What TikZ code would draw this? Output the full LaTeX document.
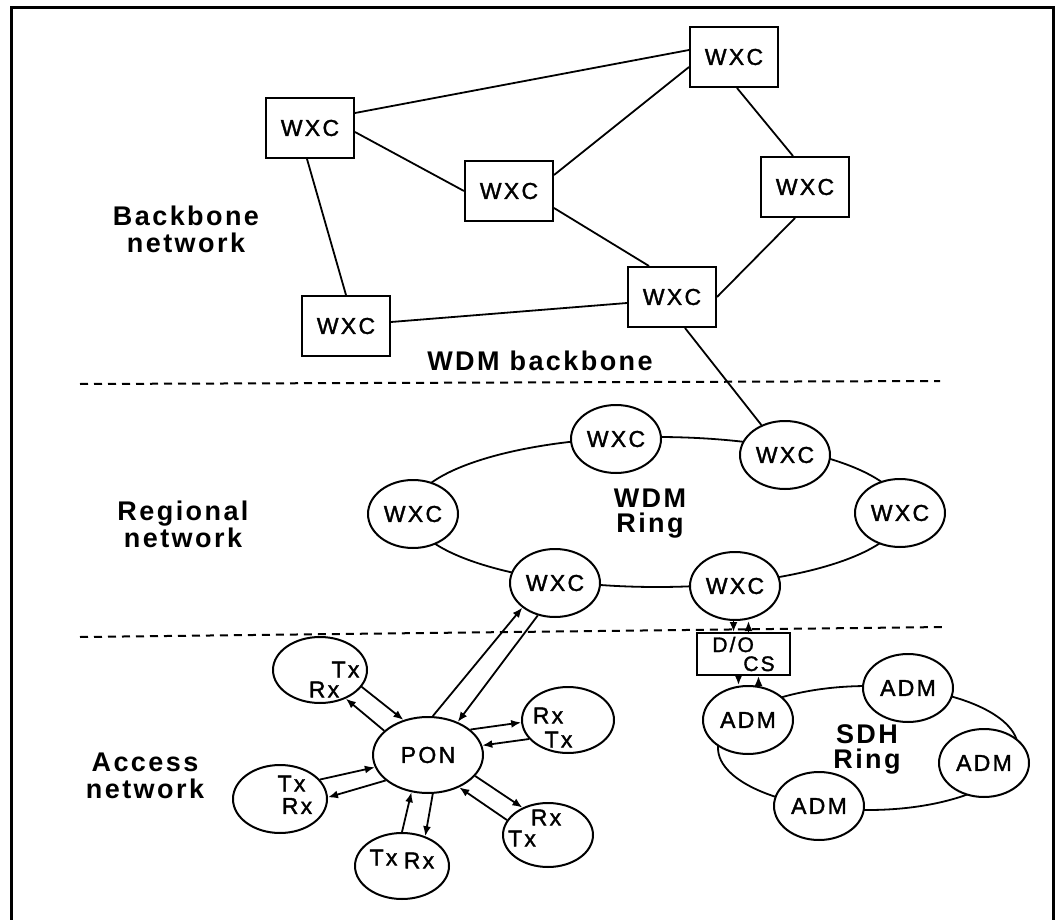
\documentclass[tikz,border=0pt]{standalone}
\usepackage{fontspec}
\setmainfont{Liberation Sans}
\newfontfamily\nf[LetterSpace=10,FakeBold=1.5]{Liberation Sans}
\newfontfamily\lf[LetterSpace=9]{Liberation Sans}
\usetikzlibrary{shapes.geometric,arrows.meta,calc}
\begin{document}
\begin{tikzpicture}[x=1pt,y=-1pt,
  box/.style={draw,line width=2pt,minimum width=88pt,minimum height=60pt,inner sep=0pt,fill=white,font=\nf\fontsize{23}{24}\selectfont},
  ell/.style={draw,ellipse,line width=2pt,minimum width=90pt,minimum height=68pt,inner sep=0pt,fill=white,font=\nf\fontsize{23}{24}\selectfont},
  txt/.style={inner sep=0pt,font=\nf\fontsize{23}{24}\selectfont},
  ln/.style={line width=1.8pt},
  arr/.style={line width=1.8pt,-{Latex[length=10pt,width=8pt]}},
  dsh/.style={line width=2pt,dash pattern=on 8pt off 6pt},
  lbl/.style={align=center,inner sep=0pt,font=\lf\bfseries\fontsize{27}{27}\selectfont},
  rlbl/.style={align=center,inner sep=0pt,font=\lf\bfseries\fontsize{27}{25}\selectfont}]
\useasboundingbox (0,0) rectangle (1055,920);
\fill[white] (0,0) rectangle (1055,920);
% frame
\draw[line width=3pt] (11,921) -- (11,8) -- (1053.5,8) -- (1053.5,921);

% ---------------- backbone ----------------
\node[box] (tr) at (734,57) {WXC};
\node[box] (lb) at (310,128) {WXC};
\node[box] (cb) at (509,191) {WXC};
\node[box] (rb) at (805,187) {WXC};
\node[box] (bb) at (672,297) {WXC};
\node[box] (bl) at (346,326) {WXC};

\draw[ln] ($(lb.east)+(0,-15)$) -- ($(tr.west)+(0,-7)$);
\draw[ln] ($(lb.east)+(0,4)$) -- (cb.west);
\draw[ln] ($(lb.south)+(-3,0)$) -- (bl.north);
\draw[ln] ($(cb.east)+(0,-16)$) -- ($(tr.west)+(0,10)$);
\draw[ln] ($(cb.east)+(0,17)$) -- ($(bb.north)+(-23,0)$);
\draw[ln] ($(tr.south)+(3,0)$) -- ($(rb.north)+(-12,0)$);
\draw[ln] ($(rb.south)+(-10,0)$) -- (bb.east);
\draw[ln] ($(bl.east)+(0,-4)$) -- ($(bb.west)+(0,6)$);

\node[lbl,anchor=base] (lbbk) at (186,252) {Backbone\\network};
\node[lbl,anchor=base] (lbwb) at (540,370) {WDM backbone};

% dashed separators
\draw[dsh] (80,384) -- (940,381);
\draw[dsh] (80,637) -- (945,627);

% ---------------- regional ----------------
\draw[ln] (657,512) ellipse [x radius=245, y radius=75];
\node[ell] (wt) at (616,439) {WXC};
\node[ell] (wtr) at (785,455) {WXC};
\node[ell] (wr) at (900,513) {WXC};
\node[ell] (wl) at (413,514) {WXC};
\node[ell] (wbl) at (555,583) {WXC};
\node[ell] (wb) at (735,586) {WXC};
\draw[ln] ($(bb.south)+(13,0)$) -- (wtr);

\node[rlbl,anchor=base] (lwr) at (650,532) {WDM\\Ring};
\node[lbl,anchor=base] (lrg) at (183,547) {Regional\\network};

% ---------------- access ----------------
\node[lbl,anchor=base] (lac) at (145,798) {Access\\network};

\node[ell,minimum width=110pt,minimum height=76pt] (pon) at (428,755) {PON};
\node[ell,minimum width=94pt,minimum height=66pt] (ul) at (320,670) {};
\node[ell,minimum width=92pt,minimum height=66pt] (ru) at (568,720) {};
\node[ell,minimum width=94pt,minimum height=68pt] (ll) at (280,799) {};
\node[ell,minimum width=94pt,minimum height=66pt] (bo) at (402,866) {};
\node[ell,minimum width=90pt,minimum height=64pt] (rl) at (548,835) {};

\node[txt] (ulT) at (345.5,669.5) {Tx};
\node[txt] (ulR) at (324,689.5) {Rx};
\node[txt] (ruR) at (548,715.5) {Rx};
\node[txt] (ruT) at (558.5,739.5) {Tx};
\node[txt] (llT) at (291.5,783.5) {Tx};
\node[txt] (llR) at (297,806) {Rx};
\node[txt] (boT) at (383.5,857.5) {Tx};
\node[txt] (boR) at (419,860.5) {Rx};
\node[txt] (rlR) at (546,817.5) {Rx};
\node[txt] (rlT) at (522,838.5) {Tx};

\draw[arr] (pon.83) -- (wbl.217);
\draw[arr] (wbl.242) -- (pon.48);
\draw[arr] (ul.338) -- (pon.125);
\draw[arr] (pon.151) -- (ul.312);
\draw[arr] (pon.31) -- (ru.183);
\draw[arr] (ru.206) -- (pon.10);
\draw[arr] (ll.26) -- (pon.193);
\draw[arr] (pon.211) -- (ll.2);
\draw[arr] (bo.90) -- (pon.246);
\draw[arr] (pon.277) -- (bo.52);
\draw[arr] (pon.336) -- (rl.133);
\draw[arr] (rl.160) -- (pon.314);

% SDH ring
\draw[ln] (868,748) ellipse [x radius=150, y radius=62];
\node[ell] (adl) at (748,720) {ADM};
\node[ell] (adt) at (908,688) {ADM};
\node[ell] (adr) at (984,763) {ADM};
\node[ell] (adb) at (819,806) {ADM};
\node[rlbl,anchor=base] (lsdh) at (867,768) {SDH\\Ring};

\node[draw,line width=2pt,minimum width=93pt,minimum height=42pt,inner sep=0pt,fill=white,align=left,font=\nf\fontsize{21}{19}\selectfont] (dobox) at (743.5,654) {D/O\\\hspace*{31pt}CS};

\draw[arr] ([xshift=-10pt]dobox.north |- wb.south) -- ([xshift=-10pt]dobox.north);
\draw[arr] ([xshift=5pt]dobox.north) -- ([xshift=5pt]dobox.north |- wb.south);
\draw[arr] ([xshift=-5pt]dobox.south) -- ([xshift=-5pt]dobox.south |- adl.north);
\draw[arr] ([xshift=15pt]dobox.south |- adl.north) -- ([xshift=15pt]dobox.south);
\end{tikzpicture}
\end{document}
